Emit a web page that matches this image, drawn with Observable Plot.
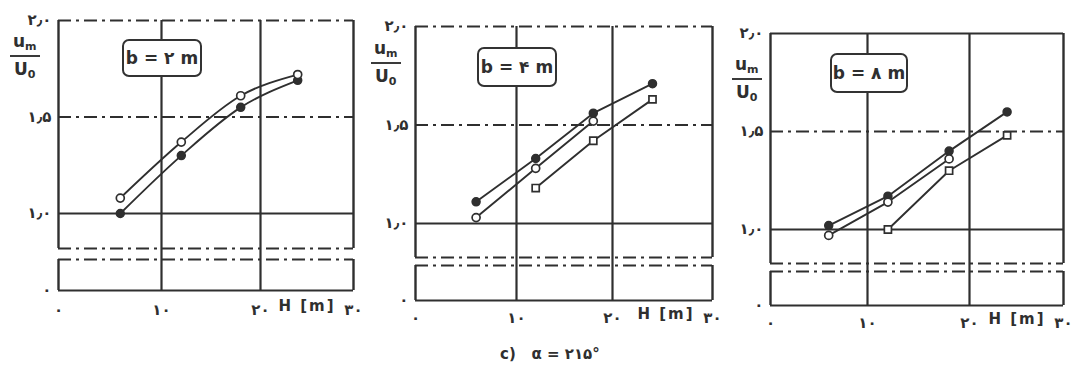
<!DOCTYPE html>
<html>
<head>
<meta charset="utf-8">
<script src="https://cdn.jsdelivr.net/npm/d3@7"></script>
<script src="https://cdn.jsdelivr.net/npm/@observablehq/plot@0.6"></script>
<style>
  body { margin: 0; background: #fff; }
  #figure { position: relative; width: 1086px; height: 368px; overflow: hidden;
            font-family: "DejaVu Sans", sans-serif; color: #2f2f2f; }
  .panel { position: absolute; top: 0; }
  .ytitle { position: absolute; font-weight: bold; font-size: 17px; line-height: 1; text-align: center; }
  .ytitle .num { border-bottom: 2px solid #3a3a3a; padding: 0 3px 3px; }
  .ytitle .den { padding-top: 4px; }
  .ytitle sub { font-size: 11px; vertical-align: -3px; }
  .tag { position: absolute; box-sizing: border-box; border: 2px solid #333; border-radius: 7px;
         background: #fff; font-weight: bold; font-size: 17px; display: flex;
         align-items: center; justify-content: center; white-space: pre; }
  .caption { position: absolute; top: 345px; left: 500px; font-weight: bold; font-size: 15px; white-space: pre; }
</style>
</head>
<body>
<div id="figure"></div>
<script>
// Axis ticks and their Persian labels
const xTicks = [0, 10, 20, 30];
const xTickLabels = ["۰", "۱۰", "۲۰", "۳۰"];
const yTicks = [0, 1.0, 1.5, 2.0];
const yTickLabels = ["۰", "۱٫۰", "۱٫۵", "۲٫۰"];
const widthLabels = ["۲", "۴", "۸"];           // b [m]
const captionText = "c)   α = ۲۱۵°";

// H [m] of the measurements
const hAll = [6, 12, 18, 24];
const hEarly = [6, 12, 18];
const hLate = [12, 18, 24];

// u_m / U_0 for b = 2 m
const b2Filled = [1.00, 1.30, 1.55, 1.69];
const b2Open = [1.08, 1.37, 1.61, 1.72];
// u_m / U_0 for b = 4 m
const b4Filled = [1.11, 1.33, 1.56, 1.71];
const b4Open = [1.03, 1.28, 1.52];
const b4Late = [1.18, 1.42, 1.63];
// u_m / U_0 for b = 8 m
const b8Filled = [1.02, 1.17, 1.40, 1.60];
const b8Open = [0.97, 1.14, 1.36];
const b8Late = [1.00, 1.30, 1.48];

const rowsOf = (series, hs, vs) => hs.map((h, i) => ({series, h, r: vs[i]}));

const panelData = [
  [...rowsOf("filled", hAll, b2Filled), ...rowsOf("open", hAll, b2Open)],
  [...rowsOf("filled", hAll, b4Filled), ...rowsOf("open", hEarly, b4Open), ...rowsOf("late", hLate, b4Late)],
  [...rowsOf("filled", hAll, b8Filled), ...rowsOf("open", hEarly, b8Open), ...rowsOf("late", hLate, b8Late)]
];

// Page layout of the three panels (pixels)
const layout = [
  {left: 0,   width: 365, x: [58, 161, 260, 353], y0: 290, y1: 213, y2: 20, yU: 248, yL: 259, topDash: true,  curve: "monotone-x", pad: 14,
   title: [10, 33], tag: [122, 39, 80, 38]},
  {left: 365, width: 360, x: [50, 151, 247, 347], y0: 300, y1: 223, y2: 26, yU: 257, yL: 265, topDash: true,  curve: "linear", pad: 12,
   title: [371, 40], tag: [477, 47, 80, 40]},
  {left: 725, width: 361, x: [45, 142, 244, 338], y0: 305, y1: 229, y2: 33, yU: 263, yL: 271, topDash: false, curve: "linear", pad: 12,
   title: [732, 56], tag: [830, 53, 78, 40]}
];

const ink = "#2f2f2f";
const dash = "13,5,3,5";
const height = 340;
const fig = document.getElementById("figure");

layout.forEach((L, k) => {
  // Broken y axis: lower piece holds only the zero level, upper piece 0.8..2.0
  const upperEdge = 1 - (L.yU - L.y1) / (L.y1 - L.y2);
  const lowerEdge = 0.12;
  const rows = panelData[k];
  const chart = Plot.plot({
    width: L.width,
    height,
    marginLeft: L.x[0],
    marginRight: L.width - L.x[3],
    marginTop: L.y2,
    marginBottom: height - L.y0,
    style: {fontFamily: "DejaVu Sans, sans-serif", fontSize: "15px", fontWeight: "bold",
            color: ink, background: "transparent", letterSpacing: "2px", overflow: "visible"},
    x: {type: "linear", domain: xTicks, range: L.x, ticks: xTicks, tickSize: 0, tickPadding: L.pad, label: null,
        tickFormat: d => xTickLabels[xTicks.indexOf(d)]},
    y: {type: "linear", domain: [0, lowerEdge, upperEdge, 2], range: [L.y0, L.yL, L.yU, L.y2], ticks: yTicks,
        tickSize: 0, tickPadding: 7, label: null,
        tickFormat: d => yTickLabels[yTicks.indexOf(d)]},
    marks: [
      // horizontal grid and frame edges
      Plot.ruleY([1.0], {x1: 0, x2: 30, stroke: ink, strokeWidth: 2}),
      Plot.ruleY([1.5], {x1: 0, x2: 30, stroke: ink, strokeWidth: 1.8, strokeDasharray: dash}),
      Plot.ruleY([2.0], {x1: 0, x2: 30, stroke: ink, strokeWidth: 1.8, strokeDasharray: L.topDash ? dash : null}),
      Plot.ruleY([upperEdge], {x1: 0, x2: 30, stroke: ink, strokeWidth: 1.8, strokeDasharray: dash}),
      Plot.ruleY([lowerEdge], {x1: 0, x2: 30, stroke: ink, strokeWidth: 1.8, strokeDasharray: dash}),
      Plot.ruleY([0], {x1: 0, x2: 30, stroke: ink, strokeWidth: 2}),
      // vertical grid
      Plot.ruleX([10, 20], {y1: 0, y2: 2, stroke: ink, strokeWidth: 2.2}),
      // side edges, broken at the axis gap
      Plot.ruleX([0, 30], {y1: upperEdge, y2: 2, stroke: ink, strokeWidth: 2.4}),
      Plot.ruleX([0, 30], {y1: 0, y2: lowerEdge, stroke: ink, strokeWidth: 2.4}),
      // measured series
      Plot.line(rows, {x: "h", y: "r", z: "series", stroke: ink, strokeWidth: 1.9, curve: L.curve}),
      Plot.dot(rows.filter(d => d.series === "filled"), {x: "h", y: "r", r: 4, fill: ink, stroke: ink}),
      Plot.dot(rows.filter(d => d.series === "open"), {x: "h", y: "r", r: 4, fill: "white", stroke: ink, strokeWidth: 1.7}),
      Plot.dot(rows.filter(d => d.series === "late"), {x: "h", y: "r", r: 4, symbol: "square", fill: "white", stroke: ink, strokeWidth: 1.7}),
      // x-axis name next to the last tick label
      Plot.text(["H [m]"], {x: () => 30, text: d => d, frameAnchor: "bottom", dy: L.pad + 6, dx: -18,
                            textAnchor: "end", fill: ink, fontSize: 15, fontWeight: "bold"})
    ]
  });
  chart.classList.add("panel");
  chart.style.left = L.left + "px";
  fig.appendChild(chart);

  // y-axis name  u_m / U_0
  const t = document.createElement("div");
  t.className = "ytitle";
  t.style.left = L.title[0] + "px";
  t.style.top = L.title[1] + "px";
  t.innerHTML = '<div class="num">u<sub>m</sub></div><div class="den">U<sub>0</sub></div>';
  fig.appendChild(t);

  // width label box
  const tag = document.createElement("div");
  tag.className = "tag";
  const [tx, ty, tw, th] = L.tag;
  Object.assign(tag.style, {left: tx + "px", top: ty + "px", width: tw + "px", height: th + "px"});
  tag.textContent = "b = " + widthLabels[k] + " m";
  fig.appendChild(tag);
});

const cap = document.createElement("div");
cap.className = "caption";
cap.textContent = captionText;
fig.appendChild(cap);
</script>
</body>
</html>
